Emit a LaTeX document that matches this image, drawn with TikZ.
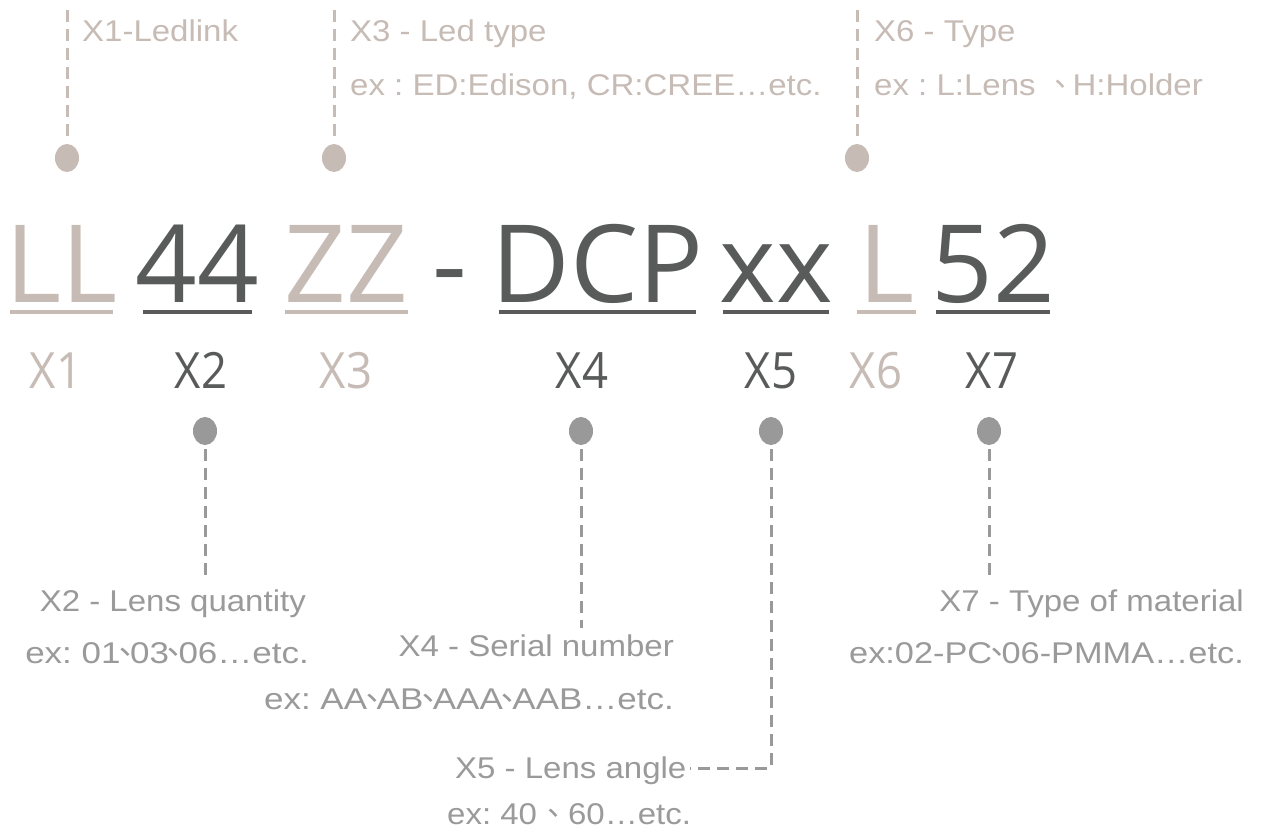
\documentclass[tikz,border=0pt]{standalone}
\usepackage{fontspec}
\usepackage{graphicx}
\setmainfont{Liberation Sans}
\newfontfamily\labfont[FakeStretch=1.1]{Liberation Sans}
\newfontfamily\codefont{Open Sans}
\newfontfamily\subfont[FakeStretch=0.91]{Open Sans}
\newfontfamily\cjkf{Noto Sans CJK TC}
\usetikzlibrary{shapes.geometric}
\definecolor{cbeige}{HTML}{C7BCB5}
\definecolor{cdark}{HTML}{595B5A}
\definecolor{cgray}{HTML}{999999}
\definecolor{ctext}{HTML}{9A9A9A}
\newcommand{\tdun}{\makebox[9pt][c]{\cjkf 、}}
\newcommand{\wdun}[1]{\makebox[#1][c]{\cjkf 、}}
\frenchspacing
\begin{document}
\begin{tikzpicture}[x=1pt,y=-1pt,
  code/.style={font=\codefont\fontsize{108}{108}\selectfont, inner sep=0pt, anchor=base},
  sub/.style={font=\subfont\fontsize{50}{50}\selectfont, inner sep=0pt, anchor=base},
  uline/.style={line width=4.5pt},
  dotb/.style={ellipse, fill=cbeige, minimum width=24pt, minimum height=28pt, inner sep=0pt},
  dotg/.style={ellipse, fill=cgray, minimum width=24pt, minimum height=28pt, inner sep=0pt},
  lead/.style={line width=3pt, dash pattern=on 12pt off 7pt},
  toptext/.style={font=\labfont\fontsize{30}{30}\selectfont, text=cbeige, inner sep=0pt, anchor=base west},
  bottext/.style={font=\labfont\fontsize{30}{30}\selectfont, text=ctext, inner sep=0pt}]
\useasboundingbox (0,0) rectangle (1261,828);
\fill[white] (0,0) rectangle (1261,828);

% main code
\node[code, text=cbeige] (ll) at (61.5,302) {LL};
\node[code, text=cdark] (n44) at (197.5,302) {44};
\node[code, text=cbeige] (zz) at (346.5,302) {ZZ};
\node[code, text=cdark] (dash) at (449.5,302) {-};
\node[code, text=cdark] (dcp) at (597.5,302) {DCP};
\node[code, text=cdark] (xx) at (776,302) {xx};
\node[code, text=cbeige] (l) at (886.5,302) {L};
\node[code, text=cdark] (n52) at (993,302) {52};
\draw[uline, cbeige] (10,312) -- (113,312);
\draw[uline, cdark] (143,312) -- (252,312);
\draw[uline, cbeige] (285,312) -- (408,312);
\draw[uline, cdark] (499,312) -- (696,312);
\draw[uline, cdark] (723,312) -- (829,312);
\draw[uline, cbeige] (857,312) -- (916,312);
\draw[uline, cdark] (936,312) -- (1050,312);

% sub labels
\node[sub, text=cbeige] (x1) at (56,388) {X1};
\node[sub, text=cdark] (x2) at (201,388) {X2};
\node[sub, text=cbeige] (x3) at (346,388) {X3};
\node[sub, text=cdark] (x4) at (582,388) {X4};
\node[sub, text=cdark] (x5) at (771,388) {X5};
\node[sub, text=cbeige] (x6) at (876,388) {X6};
\node[sub, text=cdark] (x7) at (992,388) {X7};

% top dots and leaders
\node[dotb] (d1) at (67,158) {};
\node[dotb] (d3) at (334,158) {};
\node[dotb] (d6) at (857,158) {};
\coordinate (t1) at (67,10);
\coordinate (t3) at (334,10);
\coordinate (t6) at (857,10);
\draw[lead, cbeige, shorten >=4pt] (t1) -- (d1.north);
\draw[lead, cbeige, shorten >=4pt] (t3) -- (d3.north);
\draw[lead, cbeige, shorten >=4pt] (t6) -- (d6.north);

\node[toptext] (lx1) at (82,41) {X1-Ledlink};
\node[toptext] (lx3) at (350,41) {X3 - Led type};
\node[toptext] (ex3) at (350,95) {ex : ED:Edison, CR:CREE…etc.};
\node[toptext] (lx6) at (874,41) {X6 - Type};
\node[toptext] (ex6) at (874,95) {ex : L:Lens\hspace{19pt}\wdun{12pt}\hspace{6pt}H:Holder};

% bottom dots and leaders
\node[dotg] (d2) at (205,431) {};
\node[dotg] (d4) at (581,431) {};
\node[dotg] (d5) at (771,431) {};
\node[dotg] (d7) at (989,431) {};
\coordinate (b2) at (205,575);
\coordinate (b4) at (581,628);
\coordinate (b5) at (771,768);
\coordinate (e5) at (690,768);
\coordinate (b7) at (989,575);
\draw[lead, cgray, shorten <=4pt] (d2.south) -- (b2);
\draw[lead, cgray, shorten <=4pt] (d4.south) -- (b4);
\draw[lead, cgray, shorten <=4pt] (d5.south) -- (b5) -- (e5);
\draw[lead, cgray, shorten <=4pt] (d7.south) -- (b7);

\node[bottext, anchor=base east] (lx2) at (306,611) {X2 - Lens quantity};
\node[bottext, anchor=base east] (ex2) at (309,663) {\scalebox{1.06}[1]{ex: 01\tdun 03\tdun 06…etc.}};
\node[bottext, anchor=base east] (lx4) at (674,656) {X4 - Serial number};
\node[bottext, anchor=base east] (ex4) at (674,709) {\scalebox{1.06}[1]{ex: AA\tdun AB\tdun AAA\tdun AAB…etc.}};
\node[bottext, anchor=base west] (lx5) at (455,778) {X5 - Lens angle};
\node[bottext, anchor=base west] (ex5) at (447,824) {ex: 40\hspace{9pt}\wdun{14pt}\hspace{8pt}60…etc.};
\node[bottext, anchor=base east] (lx7) at (1244,611) {X7 - Type of material};
\node[bottext, anchor=base east] (ex7) at (1244,663) {\scalebox{1.04}[1]{ex:02-PC\tdun 06-PMMA…etc.}};
\end{tikzpicture}
\end{document}
